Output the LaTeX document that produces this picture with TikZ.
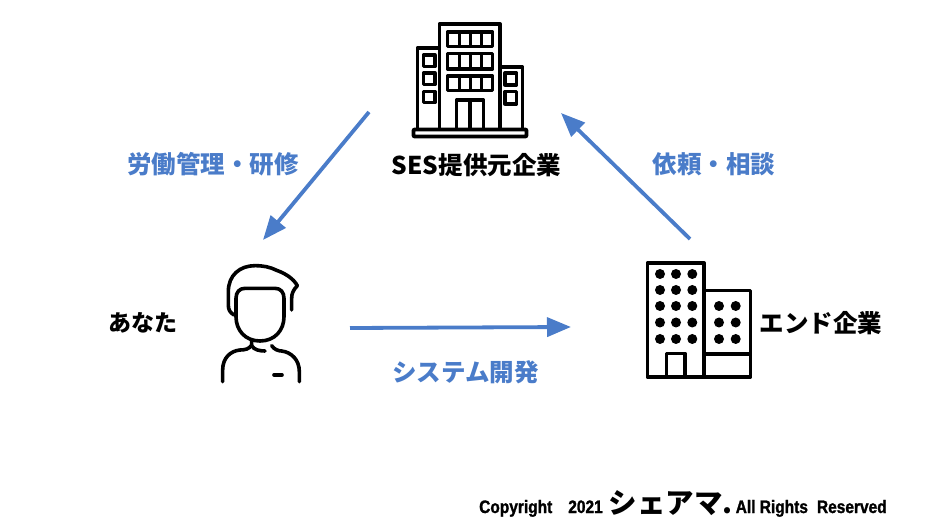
\documentclass[tikz,border=0pt]{standalone}
\usepackage{fontspec}
\setmainfont{Noto Sans CJK JP}
\newfontfamily\copyfont{Liberation Sans}[BoldFeatures={FakeStretch=0.86,FakeBold=1.4}]
\usetikzlibrary{arrows.meta}
\definecolor{flowblue}{HTML}{4A7CC9}
\tikzset{
    icon/.style={line width=3.9pt,black,line join=round},
    thinicon/.style={line width=3.3pt,black,line join=round},
    flow/.style={line width=3.8pt,flowblue,-{Triangle[length=24pt,width=19pt]}},
    bluetext/.style={flowblue,font=\fontsize{24.5}{28}\selectfont\bfseries,inner sep=0pt},
    blacktext/.style={black,font=\fontsize{24.5}{28}\selectfont\bfseries,inner sep=0pt},
}
\begin{document}
\begin{tikzpicture}[x=1pt,y=-1pt]
    \useasboundingbox (0,0) rectangle (940,529);

    % SES building
    \draw[icon,rounded corners=1pt] (413.5,129.5) rectangle (526.5,136.5);
    \draw[icon] (439.5,129) -- (439.5,24) -- (500,24) -- (500,129);
    \draw[icon] (439.5,48) -- (417.5,48) -- (417.5,129);
    \draw[icon] (500,67) -- (522.5,67) -- (522.5,129);
    \foreach \top/\bot in {32/46.5,53.5/69,76/90.5} {
        \draw[thinicon] (447.5,\top) rectangle (492.5,\bot);
        \foreach \xpos in {459.3,470.5,481.7}
            \draw[thinicon] (\xpos,\top) -- (\xpos,\bot);
    }
    \draw[thinicon] (456.5,129) -- (456.5,100) -- (483.5,100) -- (483.5,129);
    \draw[thinicon] (470,100) -- (470,129);
    \foreach \top/\bot in {55/66.5,73/84.5,91.5/102.5}
        \draw[thinicon] (423.5,\top) rectangle (435,\bot);
    \foreach \top/\bot in {73/85,91.5/104}
        \draw[thinicon] (505,\top) rectangle (516.5,\bot);

    % end company building
    \draw[icon] (647.5,263) rectangle (704,377);
    \draw[icon] (704,290.5) -- (750.5,290.5) -- (750.5,377) -- (704,377);
    \draw[icon] (704,354) -- (750.5,354);
    \draw[icon] (666.5,377) -- (666.5,353.5) -- (685,353.5) -- (685,377);
    \foreach \xpos in {660,676,692.3}
        \foreach \ypos in {274,290,306,322.5,339}
            \fill (\xpos,\ypos) circle (5);
    \foreach \xpos in {719,735.7}
        \foreach \ypos in {306,322.5,339}
            \fill (\xpos,\ypos) circle (5);

    % person
    \begin{scope}[shift={(210,255)},scale=1/3,line width=3.6pt,line cap=round,line join=round]
        \draw (150,258) .. controls (105,258) and (78,225) .. (78,185)
            -- (78,130) .. controls (78,112) and (88,100) .. (105,100)
            -- (195,100) .. controls (212,100) and (222,112) .. (222,130)
            -- (222,185) .. controls (222,225) and (195,258) .. (150,258);
        \draw (72,180) .. controls (60,172) and (55,165) .. (55,150)
            -- (55,110) .. controls (55,60) and (90,32) .. (135,32)
            .. controls (160,32) and (180,36) .. (200,46)
            .. controls (225,55) and (250,70) .. (262,92)
            .. controls (250,105) and (245,115) .. (245,130) -- (245,165);
        \draw (125,258) -- (125,270) .. controls (118,282) and (105,285) .. (90,285)
            .. controls (60,288) and (38,310) .. (38,345) -- (38,380);
        \draw (125,272) .. controls (132,285) and (150,288) .. (165,288);
        \draw (185,272) .. controls (192,283) and (205,288) .. (215,288)
            .. controls (245,292) and (268,315) .. (268,350) -- (268,380);
        \draw (192,360) -- (216,360);
    \end{scope}

    % labels
    \node[blacktext] (ses) at (476.5,165) {SES提供元企業};
    \node[blacktext,font=\fontsize{23}{26}\selectfont\bfseries] (you) at (143,323) {あなた};
    \node[blacktext] (endco) at (821,323) {エンド企業};
    \node[bluetext] (mgmt) at (213,164) {労働管理・研修};
    \node[bluetext] (request) at (714,164) {依頼・相談};
    \node[bluetext] (dev) at (465.5,372) {システム開発};
    \node[anchor=base west,inner sep=0pt,font=\copyfont\bfseries\fontsize{18}{20}\selectfont] (copy) at (479,513)
        {Copyright\hspace{16pt}2021\hspace{6pt}{\rmfamily\fontsize{28.5}{30}\selectfont シェアマ.}\hspace{3pt}All Rights\hspace{9pt}Reserved};

    % connectors
    \coordinate (sesleft) at (369,112);
    \coordinate (youtop) at (263,240);
    \coordinate (endtop) at (690,239);
    \coordinate (sesright) at (561,113);
    \coordinate (youright) at (350,328);
    \coordinate (endleft) at (571,327);
    \draw[flow] (sesleft) -- (youtop);
    \draw[flow] (endtop) -- (sesright);
    \draw[flow] (youright) -- (endleft);
\end{tikzpicture}
\end{document}
